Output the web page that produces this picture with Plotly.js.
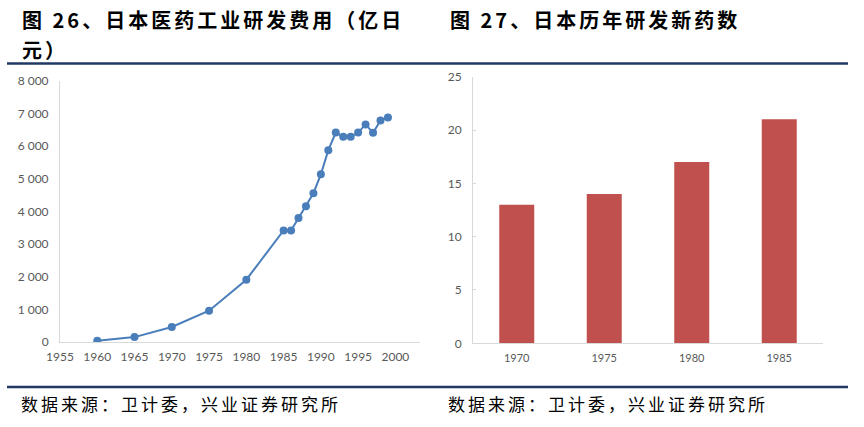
<!DOCTYPE html>
<html>
<head>
<meta charset="utf-8">
<script src="https://cdn.plot.ly/plotly-3.0.1.min.js"></script>
<style>
html,body{margin:0;padding:0;background:#fff;}
#chart{width:864px;height:427px;}
.annotation-text{letter-spacing:3px;}
</style>
</head>
<body>
<div id="chart"></div>
<script>
// Figure 26: R&D spending of Japanese pharmaceutical industry (100 million yen)
const rdYears = [1960, 1965, 1970, 1975, 1980, 1985, 1986, 1987, 1988, 1989, 1990, 1991, 1992, 1993, 1994, 1995, 1996, 1997, 1998, 1999];
const rdSpend = [40, 150, 460, 960, 1910, 3420, 3420, 3800, 4160, 4560, 5140, 5880, 6420, 6290, 6290, 6420, 6670, 6410, 6790, 6880];

// Figure 27: New drugs developed in Japan
const drugYears = ['1970', '1975', '1980', '1985'];
const drugCounts = [13, 14, 17, 21];

const titleLeft1 = '图 26、日本医药工业研发费用（亿日';
const titleLeft2 = '元）';
const titleRight = '图 27、日本历年研发新药数';
const sourceText = '数据来源：卫计委，兴业证券研究所';

const W = 864, H = 427;
const px = x => x / W;
const py = y => 1 - y / H;

const tickFont = {family: 'Lato, "Liberation Sans", sans-serif', size: 12, color: '#595959'};
const cjkFont = '"Noto Sans CJK SC", "Noto Sans", sans-serif';

const traces = [
  {
    type: 'scatter', mode: 'lines+markers',
    x: rdYears, y: rdSpend,
    xaxis: 'x', yaxis: 'y',
    line: {color: '#4a7ebb', width: 2},
    marker: {color: '#4a7ebb', size: 8},
    hoverinfo: 'x+y'
  },
  {
    type: 'bar',
    x: drugYears, y: drugCounts,
    xaxis: 'x2', yaxis: 'y2',
    marker: {color: '#c0504d'},
    hoverinfo: 'x+y'
  }
];

const layout = {
  width: W, height: H,
  margin: {l: 0, r: 0, t: 0, b: 0},
  paper_bgcolor: '#ffffff', plot_bgcolor: '#ffffff',
  showlegend: false,
  separators: '. ',
  bargap: 0.6,
  xaxis: {
    domain: [px(60), px(420)],
    range: [1955, 2003.3],
    tick0: 1955, dtick: 5,
    showgrid: false, zeroline: false,
    showline: true, linecolor: '#d9d9d9', linewidth: 1,
    ticks: '', tickfont: tickFont, ticklabelstandoff: 4,
    anchor: 'y', fixedrange: true
  },
  yaxis: {
    domain: [py(342), py(81)],
    range: [0, 8000], dtick: 1000,
    separatethousands: true,
    showgrid: false, zeroline: false,
    showline: true, linecolor: '#d9d9d9', linewidth: 1,
    ticks: '', tickfont: tickFont, ticklabelstandoff: 8,
    anchor: 'x', fixedrange: true
  },
  xaxis2: {
    domain: [px(473), px(823)],
    type: 'category',
    showgrid: false, zeroline: false,
    showline: true, linecolor: '#d9d9d9', linewidth: 1,
    ticks: '', tickfont: {family: tickFont.family, size: 11, color: '#595959'}, ticklabelstandoff: 4,
    anchor: 'y2', fixedrange: true
  },
  yaxis2: {
    domain: [py(343.3), py(76.7)],
    range: [0, 25], dtick: 5,
    showgrid: false, zeroline: false,
    showline: true, linecolor: '#d9d9d9', linewidth: 1,
    ticks: 'inside', ticklen: 3, tickcolor: '#d9d9d9',
    tickfont: tickFont, ticklabelstandoff: 8,
    anchor: 'x2', fixedrange: true
  },
  shapes: [
    {type: 'line', xref: 'paper', yref: 'paper', x0: px(7), x1: px(848), y0: py(63.5), y1: py(63.5), line: {color: '#1f3864', width: 2.5}},
    {type: 'line', xref: 'paper', yref: 'paper', x0: px(7), x1: px(848), y0: py(387), y1: py(387), line: {color: '#1f3864', width: 2.5}}
  ],
  annotations: [
    {text: titleLeft1, xref: 'paper', yref: 'paper', x: px(20), y: py(19), xanchor: 'left', yanchor: 'middle', showarrow: false, font: {family: cjkFont, size: 20, color: '#000', weight: 'bold'}},
    {text: titleLeft2, xref: 'paper', yref: 'paper', x: px(20), y: py(49), xanchor: 'left', yanchor: 'middle', showarrow: false, font: {family: cjkFont, size: 20, color: '#000', weight: 'bold'}},
    {text: titleRight, xref: 'paper', yref: 'paper', x: px(448), y: py(19), xanchor: 'left', yanchor: 'middle', showarrow: false, font: {family: cjkFont, size: 20, color: '#000', weight: 'bold'}},
    {text: sourceText, xref: 'paper', yref: 'paper', x: px(19), y: py(403), xanchor: 'left', yanchor: 'middle', showarrow: false, font: {family: cjkFont, size: 17, color: '#000'}},
    {text: sourceText, xref: 'paper', yref: 'paper', x: px(446), y: py(403), xanchor: 'left', yanchor: 'middle', showarrow: false, font: {family: cjkFont, size: 17, color: '#000'}}
  ]
};

Plotly.newPlot('chart', traces, layout, {displayModeBar: false, staticPlot: true});
</script>
</body>
</html>
